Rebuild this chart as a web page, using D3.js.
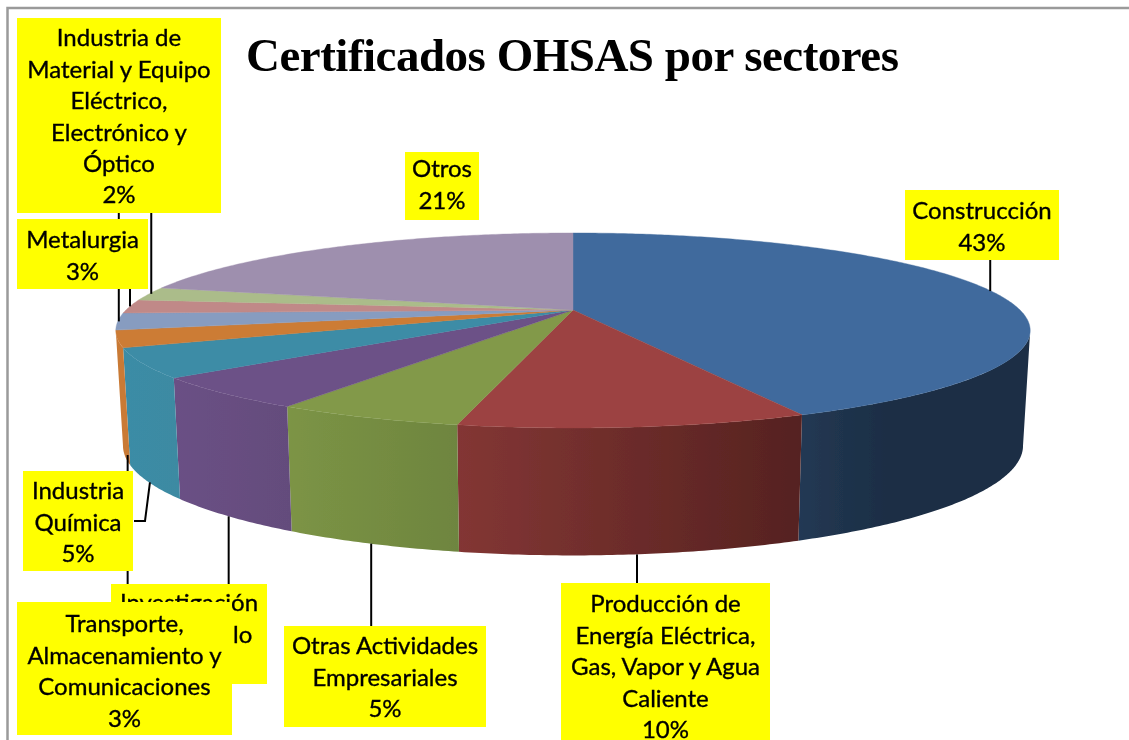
<!DOCTYPE html>
<html lang="es"><head><meta charset="utf-8">
<script src="https://cdn.jsdelivr.net/npm/d3@7/dist/d3.min.js"></script>
<style>html,body{margin:0;padding:0;background:#fff}svg{display:block}</style>
</head><body><svg id="c" width="1129" height="740"></svg>
<script>
// DATA
const sliceShares = [43.2,10.1,5.5,5.3,4.8,2.8,2.8,2.25,2.25,21.0];
const labelPercents = ["43%","10%","5%","5%","5%","3%","3%","3%","2%","21%"];
const titleText = "Certificados OHSAS por sectores";
// STYLE
const topColors = ["#416b9d","#9c4342","#82994a","#6c5187","#3c8ca6","#cc7b36","#879cc0","#c08988","#abbc8a","#9e8fae"];
const wallLeft  = ["#233954","#833634","#7c9445","#6a5085","#3b8ca6","#c97a36","#879cc0","#c08988","#abbc8a","#9e8fae"];
const wallRight = ["#1b2d44","#552220","#6e853f","#644c7c","#3c8aa2","#c97a36","#879cc0","#c08988","#abbc8a","#9e8fae"];
const wallSpan  = [0.4,1,1,1,1,1,1,1,1,1];
// LAYOUT: stacking order of the reference, bottom to top
const labelBoxes = [
 {i:3,x:111,y:584,w:156,h:100,rows:["Investigación","y Desarrollo"],y0:603,leaderTo:585,dx:0},
 {i:0,x:905,y:190,w:154,h:70,rows:["Construcción"],y0:211,leaderTo:259,dx:-1},
 {i:1,x:561,y:583,w:209,h:160,rows:["Producción de","Energía Eléctrica,","Gas, Vapor y Agua","Caliente"],y0:604,leaderTo:584,dx:3},
 {i:2,x:284,y:626,w:202,h:101,rows:["Otras Actividades","Empresariales"],y0:646,leaderTo:627,dx:1},
 {i:4,x:23,y:471,w:110,h:100,rows:["Industria","Química"],y0:491,elbow:[145,521,134],dx:1},
 {i:9,x:405,y:152,w:74,h:68,rows:["Otros"],y0:169},
 {i:7,x:17,y:219,w:131,h:70,rows:["Metalurgia"],y0:240,leaderTo:288,dx:0},
 {i:5,x:17,y:602,w:215,h:133,rows:["Transporte,","Almacenamiento y","Comunicaciones"],y0:624,leaderTo:603,dx:3},
 {i:8,x:17,y:18,w:204,h:195,rows:["Industria de","Material y Equipo","Eléctrico,","Electrónico y","Óptico"],y0:38,leaderTo:212,dx:2}
];
const hiddenLeaders = [{i:6,leaderTo:200,dx:1}];
const rowH = 31.4;
const svg = d3.select("#c");
const topRim = {cx:573,cy:310,A:447,B:93.2,k:0.21};
const botRim = {cx:573,cy:422.5,A:440,B:105,k:0.21};
const project = (r,t)=>{const w=1/(1+r.k*Math.cos(t));return [r.cx+r.A*Math.sin(t)*w, r.cy-r.B*Math.cos(t)*w];};
const arcs = d3.pie().sort(null).value(d=>d)(sliceShares);
const sample=(a,b)=>{const n=Math.max(2,Math.ceil((b-a)/0.01));return d3.range(n+1).map(j=>a+(b-a)*j/n);};
const line=d3.line();
const wallStart=Math.PI/2+Math.asin(topRim.k), wallEnd=3*Math.PI/2-Math.asin(topRim.k);
const defs=svg.append("defs");
defs.append("filter").attr("id","soft").attr("x",0).attr("y",0).attr("width","100%").attr("height","100%")
  .append("feGaussianBlur").attr("stdDeviation",0.55);
const art=svg.append("g").attr("filter","url(#soft)");
art.append("rect").attr("width",1129).attr("height",740).attr("fill","#fff");
art.append("path").attr("d","M7.5,740V8H1129").attr("fill","none").attr("stroke","#9a9a9a").attr("stroke-width",2.5);
// walls
arcs.forEach((d,i)=>{
  const a=Math.max(d.startAngle,wallStart), b=Math.min(d.endAngle,wallEnd);
  if(b<=a) return;
  const ts=sample(a,b);
  const pts=ts.map(t=>project(topRim,t)).concat(ts.slice().reverse().map(t=>project(botRim,t)));
  const xs=d3.extent(pts,p=>p[0]);
  const g=defs.append("linearGradient").attr("id","w"+i).attr("gradientUnits","userSpaceOnUse")
    .attr("x1",xs[0]).attr("x2",xs[0]+(xs[1]-xs[0])*wallSpan[i]).attr("y1",0).attr("y2",0);
  g.append("stop").attr("offset",0).attr("stop-color",wallLeft[i]);
  g.append("stop").attr("offset",1).attr("stop-color",wallRight[i]);
  art.append("path").attr("d",line(pts)+"Z").attr("fill",`url(#w${i})`);
});
// top face
arcs.forEach((d,i)=>{
  const pts=[[topRim.cx,topRim.cy]].concat(sample(d.startAngle,d.endAngle).map(t=>project(topRim,t)));
  art.append("path").attr("d",line(pts)+"Z").attr("fill",topColors[i]).attr("stroke",topColors[i]).attr("stroke-width",0.4);
});
// leaders from slice mid-angle
labelBoxes.concat(hiddenLeaders).forEach(b=>{
  const d=arcs[b.i], mid=(d.startAngle+d.endAngle)/2;
  if(b.leaderTo==null && !b.elbow) return;
  const near=mid<wallEnd-0.02 && mid>wallStart;
  const p=project(near?botRim:topRim,mid);
  p[0]+=b.dx||0;
  const pts=b.elbow?[p,[b.elbow[0],b.elbow[1]],[b.elbow[2],b.elbow[1]]]:[p,[p[0],b.leaderTo]];
  art.append("path").attr("d",line(pts)).attr("fill","none").attr("stroke","#000").attr("stroke-width",2);
});
// label boxes
labelBoxes.forEach(b=>{
  const g=art.append("g");
  g.append("rect").attr("x",b.x).attr("y",b.y).attr("width",b.w).attr("height",b.h).attr("fill","#ffff00");
  b.rows.concat([labelPercents[b.i]]).forEach((r,k)=>{
    g.append("text").attr("x",b.x+b.w/2).attr("y",b.y0+k*rowH).attr("dy","0.35em").attr("text-anchor","middle")
     .attr("font-family","Lato, 'Open Sans', sans-serif").attr("font-size",24).attr("fill","#000")
     .attr("stroke","#000").attr("stroke-width",0.35).text(r);
  });
});
// title
art.append("text").attr("x",572.5).attr("y",71).attr("text-anchor","middle")
  .attr("font-family","'Liberation Serif', serif").attr("font-weight",700).attr("font-size",47)
  .attr("textLength",653).attr("lengthAdjust","spacing").attr("fill","#000").text(titleText);
</script></body></html>
